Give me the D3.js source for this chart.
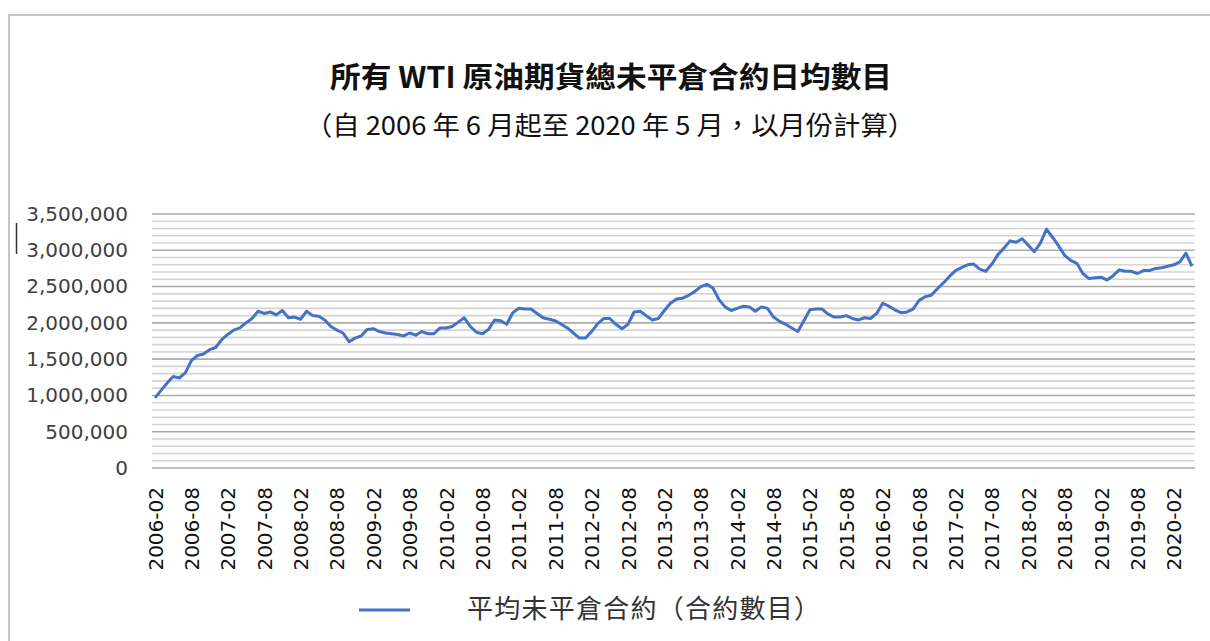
<!DOCTYPE html>
<html>
<head>
<meta charset="utf-8">
<script src="https://cdn.jsdelivr.net/npm/d3@7"></script>
<style>
  body { margin: 0; background: #fff; }
  svg { display: block; }
</style>
</head>
<body>
<div id="chart"></div>
<script>
// chart data
const titleText = '所有 WTI 原油期貨總未平倉合約日均數目';
const subtitleText = '（自 2006 年 6 月起至 2020 年 5 月，以月份計算）';
const legendLabel = '平均未平倉合約（合約數目）';

// monthly categories 2006-02 .. 2020-05
const months = d3.timeMonth.range(new Date(2006, 1, 1), new Date(2020, 5, 1)).map(d3.timeFormat('%Y-%m'));

const openInterest = [
  967000, 1070000, 1170000, 1260000, 1240000, 1310000, 1480000, 1550000, 1570000, 1630000,
  1660000, 1770000, 1840000, 1900000, 1930000, 2000000, 2060000, 2160000, 2130000, 2150000,
  2110000, 2170000, 2070000, 2080000, 2050000, 2160000, 2100000, 2090000, 2040000, 1950000,
  1900000, 1860000, 1740000, 1790000, 1820000, 1910000, 1920000, 1880000, 1860000, 1850000,
  1840000, 1820000, 1860000, 1830000, 1880000, 1850000, 1850000, 1930000, 1930000, 1950000,
  2010000, 2070000, 1950000, 1870000, 1850000, 1910000, 2040000, 2030000, 1980000, 2140000,
  2200000, 2190000, 2190000, 2130000, 2070000, 2050000, 2030000, 1980000, 1930000, 1860000,
  1790000, 1790000, 1880000, 1990000, 2060000, 2060000, 1980000, 1920000, 1980000, 2150000,
  2160000, 2100000, 2040000, 2060000, 2170000, 2270000, 2330000, 2340000, 2380000, 2430000,
  2500000, 2530000, 2480000, 2320000, 2220000, 2170000, 2200000, 2230000, 2220000, 2160000,
  2220000, 2200000, 2080000, 2020000, 1980000, 1930000, 1880000, 2030000, 2180000, 2190000,
  2190000, 2120000, 2080000, 2080000, 2100000, 2060000, 2040000, 2070000, 2060000, 2130000,
  2270000, 2230000, 2180000, 2140000, 2150000, 2190000, 2310000, 2360000, 2380000, 2470000,
  2550000, 2640000, 2720000, 2760000, 2800000, 2810000, 2740000, 2710000, 2810000, 2940000,
  3030000, 3130000, 3110000, 3160000, 3070000, 2980000, 3100000, 3290000, 3180000, 3060000,
  2930000, 2860000, 2820000, 2680000, 2610000, 2620000, 2630000, 2590000, 2650000, 2730000,
  2710000, 2710000, 2680000, 2720000, 2720000, 2750000, 2760000, 2780000, 2800000, 2840000,
  2960000, 2780000
];

const xTickLabels = [
  '2006-02', '2006-08', '2007-02', '2007-08', '2008-02', '2008-08', '2009-02', '2009-08',
  '2010-02', '2010-08', '2011-02', '2011-08', '2012-02', '2012-08', '2013-02', '2013-08',
  '2014-02', '2014-08', '2015-02', '2015-08', '2016-02', '2016-08', '2017-02', '2017-08',
  '2018-02', '2018-08', '2019-02', '2019-08', '2020-02'
];
const yTicks = [0, 500000, 1000000, 1500000, 2000000, 2500000, 3000000, 3500000];

const data = months.map((m, i) => ({ month: m, value: openInterest[i] }));

const width = 1210, height = 641;
const svg = d3.select('#chart').append('svg')
  .attr('width', width)
  .attr('height', height);

// outer frame (only top and left visible in the picture)
svg.append('path')
  .attr('d', 'M9,641 V15 H1210')
  .attr('fill', 'none')
  .attr('stroke', '#c6c6c6')
  .attr('stroke-width', 2);

// stray cursor mark
svg.append('line')
  .attr('x1', 16.5).attr('x2', 16.5)
  .attr('y1', 223).attr('y2', 254)
  .attr('stroke', '#333')
  .attr('stroke-width', 1.5);

const x = d3.scalePoint().domain(months).range([155, 1192]);
const y = d3.scaleLinear().domain([0, 3500000]).range([468, 214]);

// minor gridlines every 100,000
const minor = d3.range(0, 3500001, 100000).filter(v => v % 500000 !== 0);
svg.append('g')
  .selectAll('line')
  .data(minor)
  .join('line')
  .attr('x1', 152).attr('x2', 1195)
  .attr('y1', d => y(d)).attr('y2', d => y(d))
  .attr('stroke', '#d4d4d4')
  .attr('stroke-width', 1.6);

// major gridlines
svg.append('g')
  .selectAll('line')
  .data(yTicks)
  .join('line')
  .attr('x1', 152).attr('x2', 1195)
  .attr('y1', d => y(d)).attr('y2', d => y(d))
  .attr('stroke', '#ababab')
  .attr('stroke-width', 1.6);

// y axis labels
const yAxis = svg.append('g')
  .attr('transform', 'translate(128,0)')
  .call(d3.axisLeft(y).tickValues(yTicks).tickSize(0).tickPadding(0).tickFormat(d3.format(',')));
yAxis.select('.domain').remove();
yAxis.selectAll('text')
  .attr('font-family', 'DejaVu Sans, sans-serif')
  .attr('font-size', 20)
  .attr('fill', '#404040');

// x axis labels, rotated
const xAxis = svg.append('g')
  .attr('transform', 'translate(0,484)')
  .call(d3.axisBottom(x).tickValues(xTickLabels).tickSize(0).tickPadding(0));
xAxis.select('.domain').remove();
xAxis.selectAll('text')
  .attr('font-family', 'DejaVu Sans, sans-serif')
  .attr('font-size', 20)
  .attr('fill', '#111')
  .attr('text-anchor', 'end')
  .attr('dy', null)
  .attr('transform', 'rotate(-90)')
  .attr('x', -3)
  .attr('y', 7);

// the series
const line = d3.line()
  .x(d => x(d.month))
  .y(d => y(d.value));

svg.append('path')
  .datum(data)
  .attr('d', line)
  .attr('fill', 'none')
  .attr('stroke', '#4472c4')
  .attr('stroke-width', 3)
  .attr('stroke-linejoin', 'round');

// titles
svg.append('text')
  .attr('x', 611).attr('y', 88)
  .attr('text-anchor', 'middle')
  .attr('font-family', 'Noto Sans CJK TC, sans-serif')
  .attr('font-weight', 'bold')
  .attr('font-size', 29)
  .attr('fill', '#111')
  .attr('textLength', 562)
  .attr('lengthAdjust', 'spacingAndGlyphs')
  .text(titleText);

svg.append('text')
  .attr('x', 610).attr('y', 135)
  .attr('text-anchor', 'middle')
  .attr('font-family', 'Noto Sans CJK TC, sans-serif')
  .attr('font-size', 26)
  .attr('fill', '#111')
  .attr('textLength', 610)
  .attr('lengthAdjust', 'spacingAndGlyphs')
  .text(subtitleText);

// legend
svg.append('line')
  .attr('x1', 359).attr('x2', 410)
  .attr('y1', 610).attr('y2', 610)
  .attr('stroke', '#4472c4')
  .attr('stroke-width', 3);

svg.append('text')
  .attr('x', 467).attr('y', 618)
  .attr('font-family', 'Noto Sans CJK TC, sans-serif')
  .attr('font-size', 26)
  .attr('fill', '#333')
  .attr('textLength', 353)
  .attr('lengthAdjust', 'spacing')
  .text(legendLabel);
</script>
</body>
</html>
